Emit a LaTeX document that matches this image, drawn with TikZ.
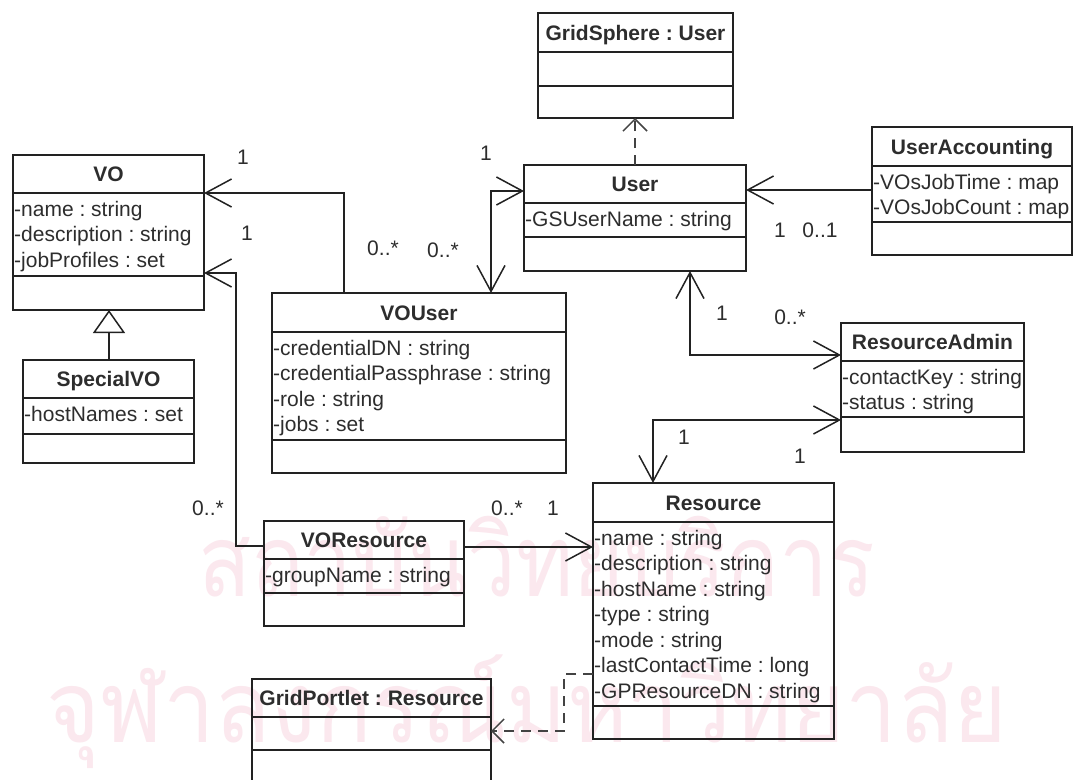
\documentclass[tikz,border=0pt]{standalone}
\usepackage{fontspec}
\setmainfont{Liberation Sans}
\newfontfamily\thaifont[Script=Thai]{Loma}
\usetikzlibrary{arrows.meta,calc}
\frenchspacing

\definecolor{ink}{RGB}{34,34,34}
\definecolor{txt}{RGB}{45,45,45}
\definecolor{wmark}{RGB}{251,232,238}

\tikzset{
  frame/.style={draw=ink, line width=1.5pt},
  classframe/.style={frame, rectangle, inner sep=0pt, outer sep=0pt, anchor=north west},
  ctitle/.style={font=\fontsize{21}{25.5}\selectfont\bfseries, text=txt, anchor=base, inner sep=0pt},
  cattr/.style={font=\fontsize{21}{25.5}\selectfont, text=txt, anchor=base west, inner sep=0pt},
  mult/.style={font=\fontsize{21}{25.5}\selectfont, text=txt, inner sep=0pt},
  barb/.tip={Straight Barb[length=26pt,width=28pt]},
  assoc/.style={draw=ink, line width=1.5pt, -barb},
  assocboth/.style={draw=ink, line width=1.5pt, barb-barb},
  gen/.style={draw=ink, line width=1.5pt, -{Triangle[open,length=23pt,width=32pt,fill=white]}},
  dep/.style={draw=ink!85, line width=1.8pt, dash pattern=on 10pt off 7pt,
              -{Straight Barb[length=12pt,width=24pt,line width=1.5pt]}},
  wm/.style={font=\thaifont\fontsize{100}{100}\selectfont, text=wmark, anchor=base west, inner sep=0pt},
}

% #1 name, #2 left, #3 top, #4 right, #5 bottom, #6 header rule, #7 attribute rule, #8 title
\newcommand{\umlclass}[8]{%
  \node[classframe, minimum width={(#4-#2)*1pt}, minimum height={(#5-#3)*1pt}] (#1) at (#2,#3) {};
  \draw[frame] ([yshift={-(#6-#3)*1pt}]#1.north west) -- ([yshift={-(#6-#3)*1pt}]#1.north east);
  \draw[frame] ([yshift={-(#7-#3)*1pt}]#1.north west) -- ([yshift={-(#7-#3)*1pt}]#1.north east);
  \node[ctitle] (#1-title) at ({(#2+#4)/2},{(#3+#6)/2+7.5}) {#8};
}
% #1 class name, #2 first baseline below the top edge, #3 attribute list
\newcommand{\umlattrs}[3]{%
  \foreach \txt [count=\i from 0] in {#3} {
    \node[cattr] (#1-a\i) at ([xshift=1pt, yshift={-(#2+25.5*\i)*1pt}]#1.north west) {\txt};
  }
}

\begin{document}
\begin{tikzpicture}[x=1pt,y=-1pt]
\useasboundingbox (0,0) rectangle (1075,779);
\clip (0,0) rectangle (1075,779);
\fill[white] (0,0) rectangle (1075,779);

% faint institutional watermark behind the diagram
\node[wm, xscale=0.87] (wm1) at (198,596) {สถาบันวิทยบริการ};
\node[wm, xscale=0.92] (wm2) at (46,742) {จุฬาลงกรณ์มหาวิทยาลัย};

% classes
\umlclass{GridSphere}{538}{13}{733}{118}{52}{86}{GridSphere : User}
\umlclass{VO}{13}{155}{204}{310}{193}{276}{VO}
\umlattrs{VO}{61}{-name : string,-description : string,-jobProfiles : set}
\umlclass{User}{524}{165}{746}{271}{203}{237}{User}
\umlattrs{User}{61}{-GSUserName : string}
\umlclass{UserAccounting}{872}{127}{1072}{255}{166}{222}{UserAccounting}
\umlattrs{UserAccounting}{62}{-VOsJobTime : map,-VOsJobCount : map}
\umlclass{VOUser}{272}{293}{566}{473}{332}{440}{VOUser}
\umlattrs{VOUser}{62}{-credentialDN : string,-credentialPassphrase : string,-role : string,-jobs : set}
\umlclass{SpecialVO}{23}{360}{194}{463}{398}{434}{SpecialVO}
\umlattrs{SpecialVO}{61}{-hostNames : set}
\umlclass{ResourceAdmin}{841}{323}{1024}{452}{361}{417}{ResourceAdmin}
\umlattrs{ResourceAdmin}{61}{-contactKey : string,-status : string}
\umlclass{Resource}{593}{483}{834}{739}{522}{706}{Resource}
\umlattrs{Resource}{62}{-name : string,-description : string,-hostName : string,-type : string,-mode : string,-lastContactTime : long,-GPResourceDN : string}
\umlclass{VOResource}{264}{521}{464}{626}{559}{593}{VOResource}
\umlattrs{VOResource}{61}{-groupName : string}
\umlclass{GridPortlet}{252}{679}{491}{800}{717}{750}{GridPortlet : Resource}

% associations
\draw[assoc] ([xshift=72pt]VOUser.north west) |- ([yshift=-38pt]VO.north east);
\draw[assoc] ([yshift=-25pt]VOResource.north west) -- ++(-28,0) |- ([yshift=-118pt]VO.north east);
\draw[assoc] ([yshift=-26pt]VOResource.north east) -- ([yshift=-64pt]Resource.north west);
\draw[assoc] ([yshift=-63pt]UserAccounting.north west) -- ([yshift=-25pt]User.north east);
\draw[assocboth] ([yshift=-26pt]User.north west) -| ([xshift=219pt]VOUser.north west);
\draw[assocboth] ([xshift=166pt]User.south west) |- ([yshift=-32pt]ResourceAdmin.north west);
\draw[assocboth] ([yshift=-97pt]ResourceAdmin.north west) -| ([xshift=60pt]Resource.north west);

% generalization and dependencies
\draw[gen] ([xshift=86pt]SpecialVO.north west) -- ([xshift=96pt]VO.south west);
\draw[dep] ([xshift=111pt]User.north west) -- ([xshift=97pt]GridSphere.south west);
\draw[dep] ([yshift=-191pt]Resource.north west) -- ++(-29,0) |- ([yshift=-52pt]GridPortlet.north east);

% multiplicities
\node[mult] (m1) at (243,157) {1};
\node[mult] (m2) at (383,248) {0..*};
\node[mult] (m3) at (247,233) {1};
\node[mult] (m4) at (208,508) {0..*};
\node[mult] (m5) at (486,153) {1};
\node[mult] (m6) at (443,250) {0..*};
\node[mult] (m7) at (780,230) {1};
\node[mult] (m8) at (820,230) {0..1};
\node[mult] (m9) at (722,313) {1};
\node[mult] (m10) at (790,317) {0..*};
\node[mult] (m11) at (684,437) {1};
\node[mult] (m12) at (800,456) {1};
\node[mult] (m13) at (507,508) {0..*};
\node[mult] (m14) at (553,508) {1};
\end{tikzpicture}
\end{document}
